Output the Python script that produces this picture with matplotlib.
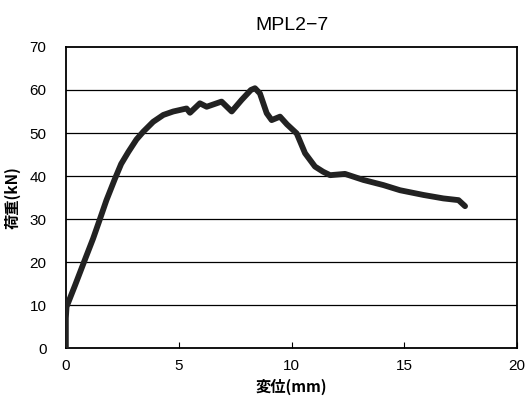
import matplotlib.pyplot as plt

# load-displacement curve
disp = [0.0, 0.0, 0.03, 0.4, 0.84, 1.21, 1.51, 1.8, 2.17, 2.45, 2.77,
        3.13, 3.43, 3.87, 4.32, 4.76, 5.35, 5.5, 5.94, 6.24, 6.9, 7.35, 7.79,
        8.2, 8.38, 8.6, 8.9, 9.12, 9.49, 9.8, 10.23, 10.6, 11.04, 11.4, 11.71,
        12.37, 13.18, 14.07, 14.81, 15.85, 16.73, 17.4, 17.69]
load = [0.0, 7.0, 9.6, 14.5, 20.5, 25.5, 30.0, 34.4, 39.3, 42.8, 45.6,
        48.5, 50.3, 52.6, 54.2, 55.0, 55.7, 54.7, 56.9, 56.1, 57.3, 55.0, 57.7,
        60.0, 60.4, 59.2, 54.6, 53.0, 53.8, 52.0, 49.9, 45.3, 42.2, 41.0, 40.2,
        40.5, 39.1, 37.9, 36.7, 35.6, 34.8, 34.4, 33.0]

xticks = [0, 5, 10, 15, 20]
yticks = [0, 10, 20, 30, 40, 50, 60, 70]

plt.rcParams['font.family'] = ['Liberation Sans', 'Noto Sans CJK JP']

fig = plt.figure(figsize=(5.31, 4.19), dpi=100)
ax = fig.add_axes([0.124, 0.169, 0.85, 0.719])

for y in yticks[1:-1]:
    ax.axhline(y, color='black', lw=0.9, zorder=1)

ax.plot(disp, load, color='#222222', lw=4.2, solid_capstyle='round',
        solid_joinstyle='round', zorder=3)

ax.set_xlim(0, 20)
ax.set_ylim(0, 70)
ax.set_xticks(xticks)
ax.set_yticks(yticks)
ax.tick_params(axis='x', direction='in', length=4, labelsize=11, pad=8)
ax.tick_params(axis='y', length=0, labelsize=11, pad=14)
for s in ax.spines.values():
    s.set_linewidth(1.3)

ax.set_title('MPL2−7', fontsize=14, pad=12)
ax.set_xlabel('変位(mm)', fontsize=11, fontweight='bold', labelpad=4,
              family=['Noto Sans CJK JP', 'DejaVu Sans'])
ax.set_ylabel('荷重(kN)', fontsize=11, fontweight='bold', labelpad=6,
              family=['Noto Sans CJK JP', 'DejaVu Sans'])

fig.savefig('out.png', dpi=100)
